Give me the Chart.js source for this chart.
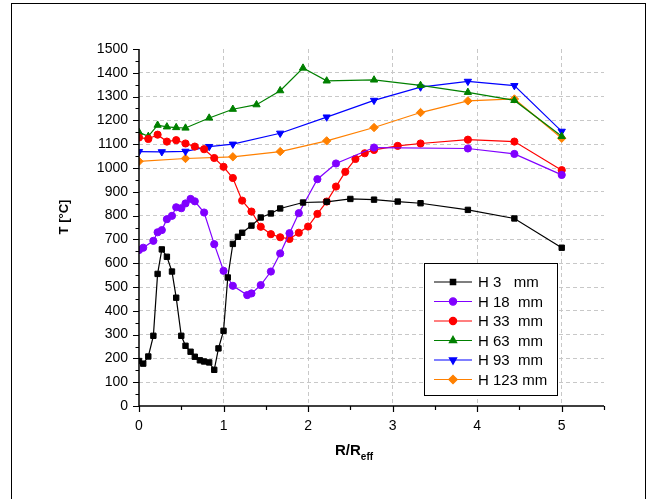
<!DOCTYPE html>
<html>
<head>
<meta charset="utf-8">
<script src="https://cdn.jsdelivr.net/npm/chart.js@4"></script>
<style>
  body { margin: 0; background: #fff; }
  canvas { display: block; }
</style>
</head>
<body>
<canvas id="myChart" width="646" height="499"></canvas>
<script>
// R/Reff positions and temperatures (°C) per height
const xH3 = [0,0.05,0.11,0.17,0.22,0.27,0.33,0.39,0.44,0.5,0.55,0.61,0.66,0.72,0.77,0.83,0.89,0.94,1.0,1.05,1.11,1.17,1.22,1.33,1.44,1.56,1.67,1.94,2.22,2.5,2.78,3.06,3.33,3.89,4.44,5];
const tH3 = [189,178,208,295,555,658,627,565,455,295,253,228,207,192,187,183,152,242,316,540,681,711,728,758,792,809,830,855,858,870,867,859,852,824,788,665];

const xH18 = [0,0.05,0.17,0.22,0.27,0.33,0.39,0.44,0.5,0.55,0.61,0.66,0.77,0.89,1.0,1.11,1.28,1.33,1.44,1.56,1.67,1.78,1.89,2.11,2.33,2.78,3.89,4.44,5];
const tH18 = [655,665,694,730,739,785,799,835,831,851,870,860,813,680,568,505,466,473,508,565,641,726,810,953,1019,1086,1082,1059,971];

const xH33 = [0,0.11,0.22,0.33,0.44,0.55,0.66,0.77,0.89,1.0,1.11,1.22,1.33,1.44,1.56,1.67,1.78,1.89,2.0,2.11,2.22,2.33,2.44,2.56,2.67,2.78,3.06,3.33,3.89,4.44,5];
const tH33 = [1128,1122,1140,1111,1117,1103,1090,1079,1042,1005,958,863,817,753,722,709,702,728,754,807,859,922,984,1038,1062,1076,1093,1103,1119,1111,991];

const xH63 = [0,0.11,0.22,0.33,0.44,0.55,0.83,1.11,1.39,1.67,1.94,2.22,2.78,3.33,3.89,4.44,5];
const tH63 = [1150,1133,1180,1173,1170,1168,1210,1247,1266,1325,1420,1366,1370,1347,1318,1284,1133];

const xH93 = [0,0.27,0.55,0.83,1.11,1.67,2.22,2.78,3.33,3.89,4.44,5];
const tH93 = [1069,1068,1070,1090,1100,1146,1214,1284,1340,1364,1346,1154];

const xH123 = [0,0.55,1.11,1.67,2.22,2.78,3.33,3.89,4.44,5];
const tH123 = [1028,1040,1047,1069,1114,1170,1233,1282,1290,1125];

const seriesLabels = ['H 3   mm', 'H 18  mm', 'H 33  mm', 'H 63  mm', 'H 93  mm', 'H 123 mm'];

function pts(xs, ys) {
  return xs.map((x, i) => ({ x: x, y: ys[i] }));
}

function ds(label, xs, ys, color, style, radius, rotation) {
  return {
    label: label,
    data: pts(xs, ys),
    borderColor: color,
    backgroundColor: color,
    borderWidth: 1.2,
    pointStyle: style,
    pointRadius: radius,
    pointRotation: rotation || 0,
    pointBorderWidth: 1,
    pointBorderColor: color,
    pointBackgroundColor: color,
    tension: 0
  };
}

const FONT = "'Liberation Sans', Arial, sans-serif";

const frame = {
  id: 'frame',
  afterDraw(chart) {
    const c = chart.ctx;
    const xs = chart.scales.x, ys = chart.scales.y;
    c.save();
    c.setLineDash([]);
    // outer frame
    c.strokeStyle = '#000';
    c.lineWidth = 1;
    c.strokeRect(11.5, 3.5, 634, 520);

    // axis lines + tick marks
    c.lineWidth = 1.5;
    c.beginPath();
    c.moveTo(xs.left, ys.top); c.lineTo(xs.left, ys.bottom);
    c.lineTo(xs.right, ys.bottom);
    c.stroke();
    c.lineWidth = 1.2;
    c.beginPath();
    for (let v = 0; v <= 1500; v += 50) {
      const y = Math.round(ys.getPixelForValue(v)) + 0.5;
      const len = v % 100 === 0 ? 6 : 3.5;
      c.moveTo(xs.left, y); c.lineTo(xs.left - len, y);
    }
    for (let v = 0; v <= 5.5; v += 0.5) {
      const x = Math.round(xs.getPixelForValue(v)) + 0.5;
      const len = Number.isInteger(v) ? 6 : 4;
      c.moveTo(x, ys.bottom); c.lineTo(x, ys.bottom + len);
    }
    c.stroke();

    // axis titles
    c.fillStyle = '#000';
    c.textBaseline = 'middle';
    c.textAlign = 'center';
    c.font = 'bold 13px ' + FONT;
    c.save();
    c.translate(64, 217);
    c.rotate(-Math.PI / 2);
    c.fillText('T [°C]', 0, 0);
    c.restore();

    c.textBaseline = 'alphabetic';
    c.textAlign = 'left';
    c.font = 'bold 15px ' + FONT;
    c.fillText('R/R', 335, 455);
    const w = c.measureText('R/R').width;
    c.font = 'bold 10px ' + FONT;
    c.fillText('eff', 335 + w, 460);

    // legend
    const lx = 424.5, ly = 263.5, lw = 133, lh = 132;
    c.fillStyle = '#fff';
    c.fillRect(lx, ly, lw, lh);
    c.strokeStyle = '#000';
    c.lineWidth = 1;
    c.strokeRect(lx, ly, lw, lh);
    chart.data.datasets.forEach((d, i) => {
      const y = 282 + i * 19.5;
      c.strokeStyle = d.borderColor;
      c.lineWidth = 1.2;
      c.beginPath();
      c.moveTo(434, y); c.lineTo(472, y);
      c.stroke();
      c.fillStyle = d.borderColor;
      Chart.helpers.drawPoint(c, {
        pointStyle: d.pointStyle,
        radius: d.pointRadius,
        rotation: d.pointRotation,
        borderWidth: 1
      }, 453, y);
      c.fillStyle = '#000';
      c.font = '15px ' + FONT;
      c.textBaseline = 'middle';
      c.fillText(d.label, 478, y + 1);
    });
    c.restore();
  }
};

const ctx = document.getElementById('myChart');

new Chart(ctx, {
  type: 'line',
  data: {
    datasets: [
      ds(seriesLabels[0], xH3, tH3, '#000000', 'rect', 3.8),
      ds(seriesLabels[1], xH18, tH18, '#8000ff', 'circle', 3.6),
      ds(seriesLabels[2], xH33, tH33, '#ff0000', 'circle', 3.6),
      ds(seriesLabels[3], xH63, tH63, '#008000', 'triangle', 4.2),
      ds(seriesLabels[4], xH93, tH93, '#0000ff', 'triangle', 4.2, 180),
      ds(seriesLabels[5], xH123, tH123, '#ff8000', 'rectRot', 4.2)
    ]
  },
  options: {
    responsive: false,
    animation: false,
    layout: { padding: { left: 0, right: 42, top: 49, bottom: 0 } },
    plugins: {
      legend: { display: false },
      tooltip: { enabled: false }
    },
    scales: {
      x: {
        type: 'linear',
        min: 0,
        max: 5.5,
        afterFit(s) { s.height = 93; },
        grid: {
          drawTicks: false,
          color: c => (c.tick && c.tick.value > 0 && c.tick.value <= 5) ? '#c8c8c8' : 'rgba(0,0,0,0)',
          lineWidth: 1
        },
        border: { display: false, dash: [4, 3] },
        ticks: {
          stepSize: 1,
          padding: 12,
          color: '#000',
          font: { family: FONT, size: 14 },
          callback: v => (v <= 5 ? String(v) : '')
        }
      },
      y: {
        min: 0,
        max: 1500,
        afterFit(s) { s.width = 139; },
        grid: {
          drawTicks: false,
          color: c => (c.tick && c.tick.value > 0 && c.tick.value < 1500) ? '#c8c8c8' : 'rgba(0,0,0,0)',
          lineWidth: 1
        },
        border: { display: false, dash: [4, 3] },
        ticks: {
          stepSize: 100,
          padding: 11,
          color: '#000',
          font: { family: FONT, size: 14 },
          callback: v => String(v)
        }
      }
    }
  },
  plugins: [frame]
});
</script>
</body>
</html>
